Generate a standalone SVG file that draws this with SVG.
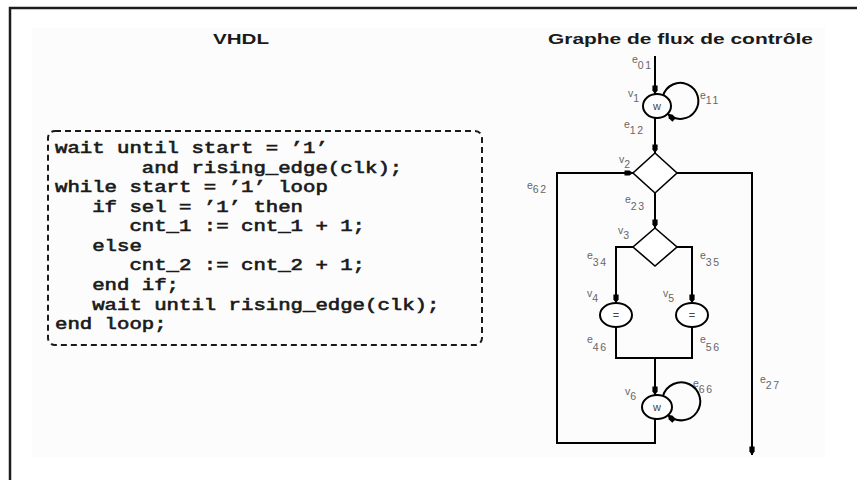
<svg xmlns="http://www.w3.org/2000/svg" width="857" height="480" viewBox="0 0 857 480">
<style>
.frame{fill:none;stroke:#1c1c1c;stroke-width:2.5}
.title{font-family:"Liberation Sans",Arial,sans-serif;font-weight:bold;font-size:15px;fill:#1a1a1a}
.code{font-family:"Liberation Mono","Courier New",monospace;font-size:16px;fill:#1a1a1a;stroke:#1a1a1a;stroke-width:0.6}
.box{fill:none;stroke:#1a1a1a;stroke-width:2;stroke-dasharray:6 4}
.node{fill:#fff;stroke:#000;stroke-width:2}
.dia{fill:#fff;stroke:#000;stroke-width:1.6}
.edge{fill:none;stroke:#000;stroke-width:2}
.lbl{font-family:"Liberation Sans",Arial,sans-serif;font-size:10.5px;fill:#666}
.sub{letter-spacing:1.5px}
.op{font-family:"Liberation Sans",Arial,sans-serif;font-size:11px;fill:#444;text-anchor:middle}
</style>
<defs>
<marker id="arr" markerUnits="userSpaceOnUse" markerWidth="10" markerHeight="8" viewBox="0 -4 9 8" refX="8.5" refY="0" orient="auto">
<path d="M0,-2.6 L5,-2.6 L8.5,0 L5,2.6 L0,2.6 Z" fill="#000"/>
</marker>
</defs>
<rect x="32" y="28" width="793" height="429" fill="#fcfcfc"/>
<path class="frame" d="M857,8 H10 V480"/>
<text class="title" x="213" y="44" textLength="56" lengthAdjust="spacingAndGlyphs">VHDL</text>
<text class="title" x="548" y="44" textLength="265" lengthAdjust="spacingAndGlyphs">Graphe de flux de contrôle</text>
<g id="code">
<rect class="box" x="48" y="131" width="434" height="214" rx="7"/>
<text class="code" x="55" y="153" textLength="272.8" lengthAdjust="spacingAndGlyphs">wait until start = ’1’</text>
<text class="code" x="141.8" y="172.6" textLength="260.4" lengthAdjust="spacingAndGlyphs">and rising_edge(clk);</text>
<text class="code" x="55" y="192.1" textLength="272.8" lengthAdjust="spacingAndGlyphs">while start = ’1’ loop</text>
<text class="code" x="92.2" y="211.7" textLength="210.8" lengthAdjust="spacingAndGlyphs">if sel = ’1’ then</text>
<text class="code" x="129.4" y="231.2" textLength="235.6" lengthAdjust="spacingAndGlyphs">cnt_1 := cnt_1 + 1;</text>
<text class="code" x="92.2" y="250.8" textLength="49.6" lengthAdjust="spacingAndGlyphs">else</text>
<text class="code" x="129.4" y="270.4" textLength="235.6" lengthAdjust="spacingAndGlyphs">cnt_2 := cnt_2 + 1;</text>
<text class="code" x="92.2" y="289.9" textLength="86.8" lengthAdjust="spacingAndGlyphs">end if;</text>
<text class="code" x="92.2" y="309.5" textLength="347.2" lengthAdjust="spacingAndGlyphs">wait until rising_edge(clk);</text>
<text class="code" x="55" y="329" textLength="111.6" lengthAdjust="spacingAndGlyphs">end loop;</text>
</g>
<g id="connectors">
<path class="edge" d="M655,56 V94" marker-end="url(#arr)"/>
<path class="edge" d="M663,96 A18,18 0 1 1 668,114" marker-end="url(#arr)"/>
<path class="edge" d="M655,118 V153" marker-end="url(#arr)"/>
<path class="edge" d="M655,193 V228" marker-end="url(#arr)"/>
<path class="edge" d="M633,247 H616 V303" marker-end="url(#arr)"/>
<path class="edge" d="M677,247 H692 V303" marker-end="url(#arr)"/>
<path class="edge" d="M616,327 V358 H655 V395" marker-end="url(#arr)"/>
<path class="edge" d="M692,327 V358 H655"/>
<path class="edge" d="M663,396 A19,19 0 1 1 668,415" marker-end="url(#arr)"/>
<path class="edge" d="M655,419 V443 H557 V173 H633" marker-end="url(#arr)"/>
<path class="edge" d="M677,173 H752 V455" marker-end="url(#arr)"/>
<text class="lbl" x="632" y="63">e<tspan class="sub" dy="6">01</tspan></text>
<text class="lbl" x="700" y="99">e<tspan class="sub" dy="5">11</tspan></text>
<text class="lbl" x="624" y="128">e<tspan class="sub" dy="6">12</tspan></text>
<text class="lbl" x="527" y="189">e<tspan class="sub" dy="4">62</tspan></text>
<text class="lbl" x="625" y="203">e<tspan class="sub" dy="7">23</tspan></text>
<text class="lbl" x="587" y="259">e<tspan class="sub" dy="7">34</tspan></text>
<text class="lbl" x="700" y="259">e<tspan class="sub" dy="7">35</tspan></text>
<text class="lbl" x="587" y="343">e<tspan class="sub" dy="8">46</tspan></text>
<text class="lbl" x="700" y="343">e<tspan class="sub" dy="8">56</tspan></text>
<text class="lbl" x="693" y="387">e<tspan class="sub" dy="6">66</tspan></text>
<text class="lbl" x="760" y="383">e<tspan class="sub" dy="6">27</tspan></text>
</g>
<g id="v1">
<ellipse class="node" cx="657" cy="106" rx="14" ry="12"/>
<text class="op" x="657" y="110">w</text>
<text class="lbl" x="628" y="97">v<tspan dy="5">1</tspan></text>
</g>
<g id="v2">
<polygon class="dia" points="655,153 677,173 655,193 633,173"/>
<text class="lbl" x="619" y="163">v<tspan dy="5">2</tspan></text>
</g>
<g id="v3">
<polygon class="dia" points="655,228 677,247 655,266 633,247"/>
<text class="lbl" x="618" y="234">v<tspan dy="5">3</tspan></text>
</g>
<g id="v4">
<ellipse class="node" cx="616" cy="315" rx="16" ry="12"/>
<text class="op" x="616" y="319">=</text>
<text class="lbl" x="587" y="297">v<tspan dy="5">4</tspan></text>
</g>
<g id="v5">
<ellipse class="node" cx="692" cy="315" rx="16" ry="12"/>
<text class="op" x="692" y="319">=</text>
<text class="lbl" x="663" y="297">v<tspan dy="5">5</tspan></text>
</g>
<g id="v6">
<ellipse class="node" cx="657" cy="407" rx="15" ry="12"/>
<text class="op" x="657" y="411">w</text>
<text class="lbl" x="625" y="395">v<tspan dy="5">6</tspan></text>
</g>
</svg>
